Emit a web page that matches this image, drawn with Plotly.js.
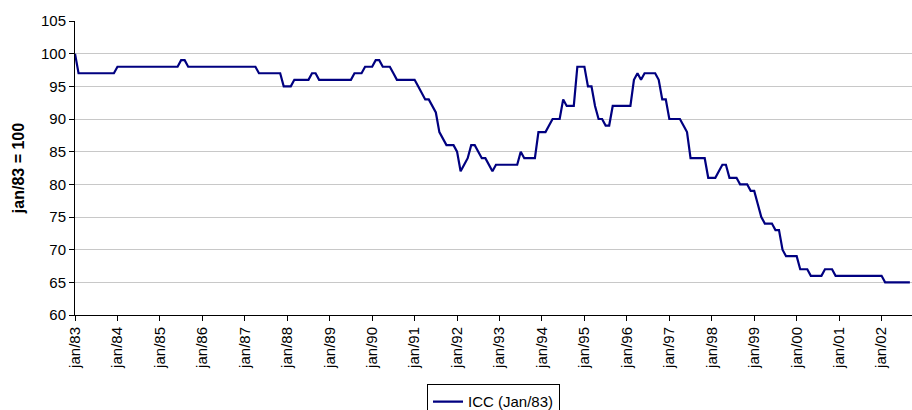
<!DOCTYPE html>
<html>
<head>
<meta charset="utf-8">
<script src="https://cdn.plot.ly/plotly-3.0.1.min.js"></script>
<style>
	html, body { margin: 0; padding: 0; background: #fff; }
	#chart { width: 912px; height: 410px; }
</style>
</head>
<body>
<div id="chart"></div>
<script>
// monthly index, jan/83 = 100 (jan/83 .. set/02)
const month_names = ['jan', 'fev', 'mar', 'abr', 'mai', 'jun', 'jul', 'ago', 'set', 'out', 'nov', 'dez'];
const first_year = 1983;
const last_year = 2002;
const last_month = 9;

const icc_values = [
	100, 97, 97, 97, 97, 97, 97, 97, 97, 97, 97, 97,          // 1983
	98, 98, 98, 98, 98, 98, 98, 98, 98, 98, 98, 98,           // 1984
	98, 98, 98, 98, 98, 98, 99, 99, 98, 98, 98, 98,           // 1985
	98, 98, 98, 98, 98, 98, 98, 98, 98, 98, 98, 98,           // 1986
	98, 98, 98, 98, 97, 97, 97, 97, 97, 97, 97, 95,           // 1987
	95, 95, 96, 96, 96, 96, 96, 97, 97, 96, 96, 96,           // 1988
	96, 96, 96, 96, 96, 96, 96, 97, 97, 97, 98, 98,           // 1989
	98, 99, 99, 98, 98, 98, 97, 96, 96, 96, 96, 96,           // 1990
	96, 95, 94, 93, 93, 92, 91, 88, 87, 86, 86, 86,           // 1991
	85, 82, 83, 84, 86, 86, 85, 84, 84, 83, 82, 83,           // 1992
	83, 83, 83, 83, 83, 83, 85, 84, 84, 84, 84, 88,           // 1993
	88, 88, 89, 90, 90, 90, 93, 92, 92, 92, 98, 98,           // 1994
	98, 95, 95, 92, 90, 90, 89, 89, 92, 92, 92, 92,           // 1995
	92, 92, 96, 97, 96, 97, 97, 97, 97, 96, 93, 93,           // 1996
	90, 90, 90, 90, 89, 88, 84, 84, 84, 84, 84, 81,           // 1997
	81, 81, 82, 83, 83, 81, 81, 81, 80, 80, 80, 79,           // 1998
	79, 77, 75, 74, 74, 74, 73, 73, 70, 69, 69, 69,           // 1999
	69, 67, 67, 67, 66, 66, 66, 66, 67, 67, 67, 66,           // 2000
	66, 66, 66, 66, 66, 66, 66, 66, 66, 66, 66, 66,           // 2001
	66, 65, 65, 65, 65, 65, 65, 65, 65                        // 2002
];

// category labels like "jan/83"
let month_labels = [];
for (let y = first_year; y <= last_year; y++) {
	const yy = String(y).slice(2);
	const n = (y === last_year) ? last_month : 12;
	for (let m = 0; m < n; m++) {
		month_labels.push(month_names[m] + '/' + yy);
	}
}
const tick_labels = month_labels.filter(l => l.startsWith('jan/'));

const font_family = '"Liberation Sans", Arial, sans-serif';

const chart_data = [
	{
		name: 'ICC (Jan/83)',
		x: month_labels,
		y: icc_values,
		type: 'scatter',
		mode: 'lines',
		line: {
			color: '#000080',
			width: 2.2
		}
	}
];

const chart_layout = {
	width: 912,
	height: 410,
	paper_bgcolor: '#ffffff',
	plot_bgcolor: '#ffffff',
	font: {
		family: font_family,
		size: 15,
		color: '#000000'
	},
	showlegend: true,
	legend: {
		orientation: 'h',
		x: 0.5,
		xanchor: 'center',
		y: -0.236,
		yanchor: 'top',
		bordercolor: '#000000',
		borderwidth: 1,
		font: {
			size: 15
		}
	},
	xaxis: {
		type: 'category',
		range: [0, 236.6],
		tickmode: 'array',
		tickvals: tick_labels,
		ticktext: tick_labels,
		tickangle: -90,
		ticks: 'outside',
		ticklen: 5,
		tickcolor: '#000000',
		showgrid: false,
		showline: true,
		linecolor: '#000000',
		linewidth: 1,
		zeroline: false,
		automargin: false,
		tickfont: {
			size: 15
		}
	},
	yaxis: {
		range: [60, 105],
		dtick: 5,
		ticks: 'outside',
		ticklen: 5,
		tickcolor: '#000000',
		showgrid: true,
		gridcolor: '#c8c8c8',
		gridwidth: 1,
		showline: true,
		linecolor: '#000000',
		linewidth: 1,
		zeroline: false,
		automargin: false,
		tickfont: {
			size: 15
		},
		title: {
			text: '<b>jan/83 = 100</b>',
			standoff: 12,
			font: {
				size: 16
			}
		}
	},
	margin: {
		l: 75,
		r: 0,
		t: 21,
		b: 95,
		autoexpand: false
	}
};

Plotly.newPlot('chart', chart_data, chart_layout, {displayModeBar: false, staticPlot: true});
</script>
</body>
</html>
